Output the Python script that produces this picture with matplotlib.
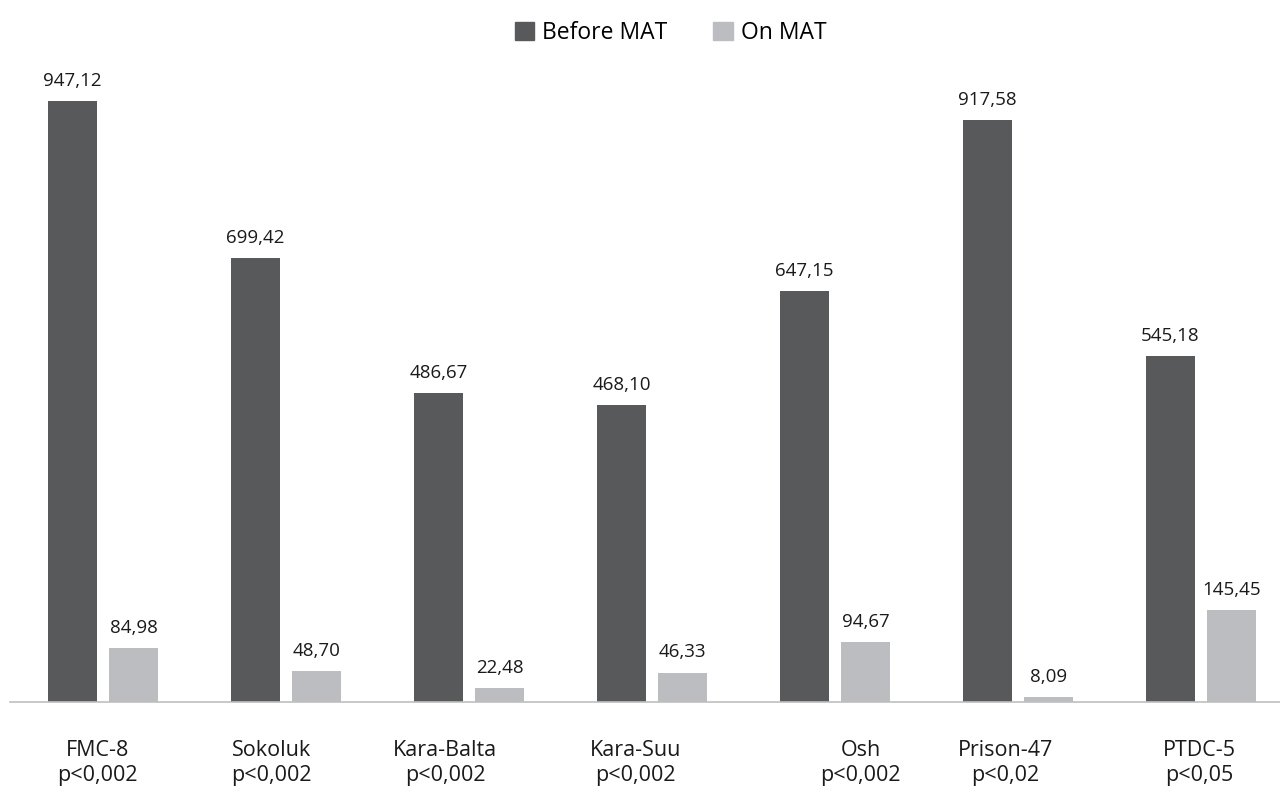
import matplotlib
matplotlib.use("Agg")
import matplotlib.pyplot as plt
from matplotlib.patches import Patch
import numpy as np

plt.rcParams["font.family"] = ["Open Sans", "DejaVu Sans"]

sites = ["FMC-8", "Sokoluk", "Kara-Balta", "Kara-Suu", "Osh", "Prison-47", "PTDC-5"]
p_values = ["p<0,002", "p<0,002", "p<0,002", "p<0,002", "p<0,002", "p<0,02", "p<0,05"]
before_mat = [947.12, 699.42, 486.67, 468.10, 647.15, 917.58, 545.18]
on_mat = [84.98, 48.70, 22.48, 46.33, 94.67, 8.09, 145.45]

# labels in the original are nudged off the group centres
label_shift = [-0.03, -0.08, -0.13, -0.09, 0.14, -0.07, -0.01]

DARK = "#58595b"
LIGHT = "#bcbdc0"

fig = plt.figure(figsize=(12.8, 7.92), dpi=100)
ax = fig.add_axes([10 / 1280, 90 / 792, 1 - 10 / 1280, 0.8013])

x = np.arange(len(sites))
w = 0.268
off = 0.167
b1 = ax.bar(x - off, before_mat, w, color=DARK)
b2 = ax.bar(x + off, on_mat, w, color=LIGHT)

for bars in (b1, b2):
    for rect in bars:
        v = rect.get_height()
        ax.annotate(f"{v:.2f}".replace(".", ","),
                    (rect.get_x() + rect.get_width() / 2, v),
                    xytext=(0, 8), textcoords="offset points",
                    ha="center", va="bottom", fontsize=13.5, color="#1a1a1a")

ax.set_xlim(-0.508, 6.432)
ax.set_ylim(0, 1000)
for s in ("top", "right", "left"):
    ax.spines[s].set_visible(False)
ax.spines["bottom"].set_color("#bfbfbf")
ax.spines["bottom"].set_linewidth(1.2)
ax.set_yticks([])
ax.set_xticks([])

for i, (name, p) in enumerate(zip(sites, p_values)):
    ax.text(i + label_shift[i], -60, f"{name}\n{p}", ha="center", va="top",
            fontsize=15.5, color="#1a1a1a", linespacing=1.25,
            transform=ax.transData)

handles = [Patch(color=DARK, label="Before MAT"), Patch(color=LIGHT, label="On MAT")]
fig.legend(handles=handles, loc="upper center", bbox_to_anchor=(0.524, 1.0),
           ncol=2, frameon=False, fontsize=16.5, handlelength=0.85,
           handleheight=0.85, handletextpad=0.35, columnspacing=2.0)

fig.savefig("out.png", dpi=100)
